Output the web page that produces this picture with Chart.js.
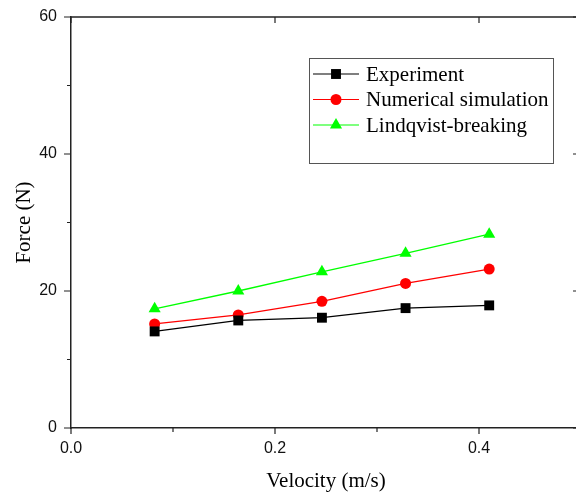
<!DOCTYPE html>
<html lang="en">
<head>
  <meta charset="UTF-8" />
  <title>Force vs Velocity</title>
  <script src="https://cdn.jsdelivr.net/npm/chart.js"></script>
  <style>
    html, body {
      margin: 0;
      padding: 0;
      background: white;
      overflow: hidden;
    }
    #wrap {
      width: 582px;
      height: 495px;
    }
  </style>
</head>
<body>
  <div id="wrap">
    <canvas id="forceChart" width="582" height="495"></canvas>
  </div>

  <script>
    // values
    const velocity = [0.082, 0.164, 0.246, 0.328, 0.41];
    const experiment = [14.1, 15.7, 16.1, 17.5, 17.9];
    const numerical = [15.2, 16.5, 18.5, 21.1, 23.2];
    const lindqvist = [17.4, 20.0, 22.8, 25.5, 28.3];

    const seriesNames = ['Experiment', 'Numerical simulation', 'Lindqvist-breaking'];
    const xMajor = [0, 0.2, 0.4];
    const xMinor = [0.1, 0.3, 0.5];
    const yMajor = [0, 20, 40, 60];
    const yMinor = [10, 30, 50];

    const sansFont = '"Liberation Sans", Arial, sans-serif';
    const serifFont = '"Liberation Serif", "Times New Roman", serif';
    const axisColor = '#222';

    function pts(ys) {
      return velocity.map((v, i) => ({ x: v, y: ys[i] }));
    }

    // keep the plot area where the layout padding puts it
    function noEdgePadding(scale) {
      scale.paddingTop = 0;
      scale.paddingBottom = 0;
      scale.paddingLeft = 0;
      scale.paddingRight = 0;
    }

    function drawMarker(ctx, style, x, y, r, color) {
      ctx.save();
      ctx.fillStyle = color;
      ctx.beginPath();
      if (style === 'rect') {
        const s = r * Math.SQRT1_2;
        ctx.rect(x - s, y - s, 2 * s, 2 * s);
      } else if (style === 'circle') {
        ctx.arc(x, y, r, 0, Math.PI * 2);
      } else {
        for (let k = 0; k < 3; k++) {
          const a = k * 2 * Math.PI / 3;
          const px = x + Math.sin(a) * r, py = y - Math.cos(a) * r;
          if (k === 0) ctx.moveTo(px, py); else ctx.lineTo(px, py);
        }
        ctx.closePath();
      }
      ctx.fill();
      ctx.restore();
    }

    // frame, tick marks and the boxed legend
    const decorations = {
      id: 'decorations',
      afterDraw(chart) {
        const ctx = chart.ctx;
        const area = chart.chartArea;
        const xs = chart.scales.x, ys = chart.scales.y;
        ctx.save();
        ctx.strokeStyle = axisColor;
        ctx.lineWidth = 1.5;
        ctx.beginPath();
        ctx.moveTo(area.left, area.top);
        ctx.lineTo(area.right, area.top);
        ctx.lineTo(area.right, area.bottom);
        ctx.stroke();

        ctx.lineWidth = 1.2;
        ctx.beginPath();
        yMajor.forEach(v => {
          const p = ys.getPixelForValue(v);
          ctx.moveTo(area.left - 7, p); ctx.lineTo(area.left, p);
          ctx.moveTo(area.right - 8, p); ctx.lineTo(area.right, p);
        });
        yMinor.forEach(v => {
          const p = ys.getPixelForValue(v);
          ctx.moveTo(area.left - 4, p); ctx.lineTo(area.left, p);
        });
        xMajor.forEach(v => {
          const p = xs.getPixelForValue(v);
          ctx.moveTo(p, area.bottom); ctx.lineTo(p, area.bottom + 6);
          ctx.moveTo(p, area.top); ctx.lineTo(p, area.top + 6);
        });
        xMinor.forEach(v => {
          const p = xs.getPixelForValue(v);
          ctx.moveTo(p, area.bottom); ctx.lineTo(p, area.bottom + 4);
        });
        ctx.stroke();

        // legend box
        const bx = area.left + 238, by = area.top + 41;
        ctx.strokeStyle = '#555';
        ctx.lineWidth = 1;
        ctx.strokeRect(bx + 0.5, by + 0.5, 244, 105);
        ctx.font = '21px ' + serifFont;
        ctx.textBaseline = 'middle';
        chart.data.datasets.forEach((ds, i) => {
          const ry = by + 16 + i * 25.5;
          ctx.strokeStyle = ds.borderColor;
          ctx.lineWidth = 1.2;
          ctx.beginPath();
          ctx.moveTo(bx + 4, ry); ctx.lineTo(bx + 50, ry);
          ctx.stroke();
          drawMarker(ctx, ds.pointStyle, bx + 27, ry, ds.pointRadius, ds.pointBackgroundColor);
          ctx.fillStyle = 'black';
          ctx.fillText(ds.label, bx + 57, ry + 1);
        });
        ctx.restore();
      }
    };

    const chart = new Chart(document.getElementById('forceChart').getContext('2d'), {
      type: 'scatter',
      data: {
        datasets: [
          {
            label: seriesNames[0],
            data: pts(experiment),
            showLine: true,
            borderColor: 'black',
            borderWidth: 1.3,
            pointStyle: 'rect',
            pointRadius: 7,
            pointBackgroundColor: 'black',
            pointBorderWidth: 0
          },
          {
            label: seriesNames[1],
            data: pts(numerical),
            showLine: true,
            borderColor: '#ff0000',
            borderWidth: 1.3,
            pointStyle: 'circle',
            pointRadius: 5.5,
            pointBackgroundColor: '#ff0000',
            pointBorderWidth: 0
          },
          {
            label: seriesNames[2],
            data: pts(lindqvist),
            showLine: true,
            borderColor: '#00ff00',
            borderWidth: 1.3,
            pointStyle: 'triangle',
            pointRadius: 7,
            pointBackgroundColor: '#00ff00',
            pointBorderWidth: 0
          }
        ]
      },
      options: {
        responsive: false,
        animation: false,
        layout: { autoPadding: false, padding: { top: 17, right: 1, left: 0, bottom: 0 } },
        plugins: {
          legend: { display: false },
          tooltip: { enabled: false }
        },
        scales: {
          x: {
            type: 'linear',
            min: 0,
            max: 0.5,
            afterFit(scale) { scale.height = 67; noEdgePadding(scale); },
            grid: { display: false, drawTicks: false },
            border: { display: true, color: axisColor, width: 1.5 },
            ticks: {
              stepSize: 0.1,
              padding: 11,
              color: '#111',
              font: { family: sansFont, size: 16 },
              callback: v => (Math.round(v * 10) % 2 === 0 ? v.toFixed(1) : '')
            },
            title: {
              display: true,
              text: 'Velocity (m/s)',
              color: 'black',
              font: { family: serifFont, size: 21 },
              padding: { top: 0, bottom: 1 }
            }
          },
          y: {
            min: 0,
            max: 60,
            afterFit(scale) { scale.width = 71; noEdgePadding(scale); },
            grid: { display: false, drawTicks: false },
            border: { display: true, color: axisColor, width: 1.5 },
            ticks: {
              stepSize: 10,
              padding: 14,
              color: '#111',
              font: { family: sansFont, size: 16 },
              callback: v => (v % 20 === 0 ? String(v) : '')
            },
            title: {
              display: true,
              text: 'Force (N)',
              color: 'black',
              font: { family: serifFont, size: 21 },
              padding: { top: 12, bottom: 0 }
            }
          }
        }
      },
      plugins: [decorations]
    });
  </script>
</body>
</html>
